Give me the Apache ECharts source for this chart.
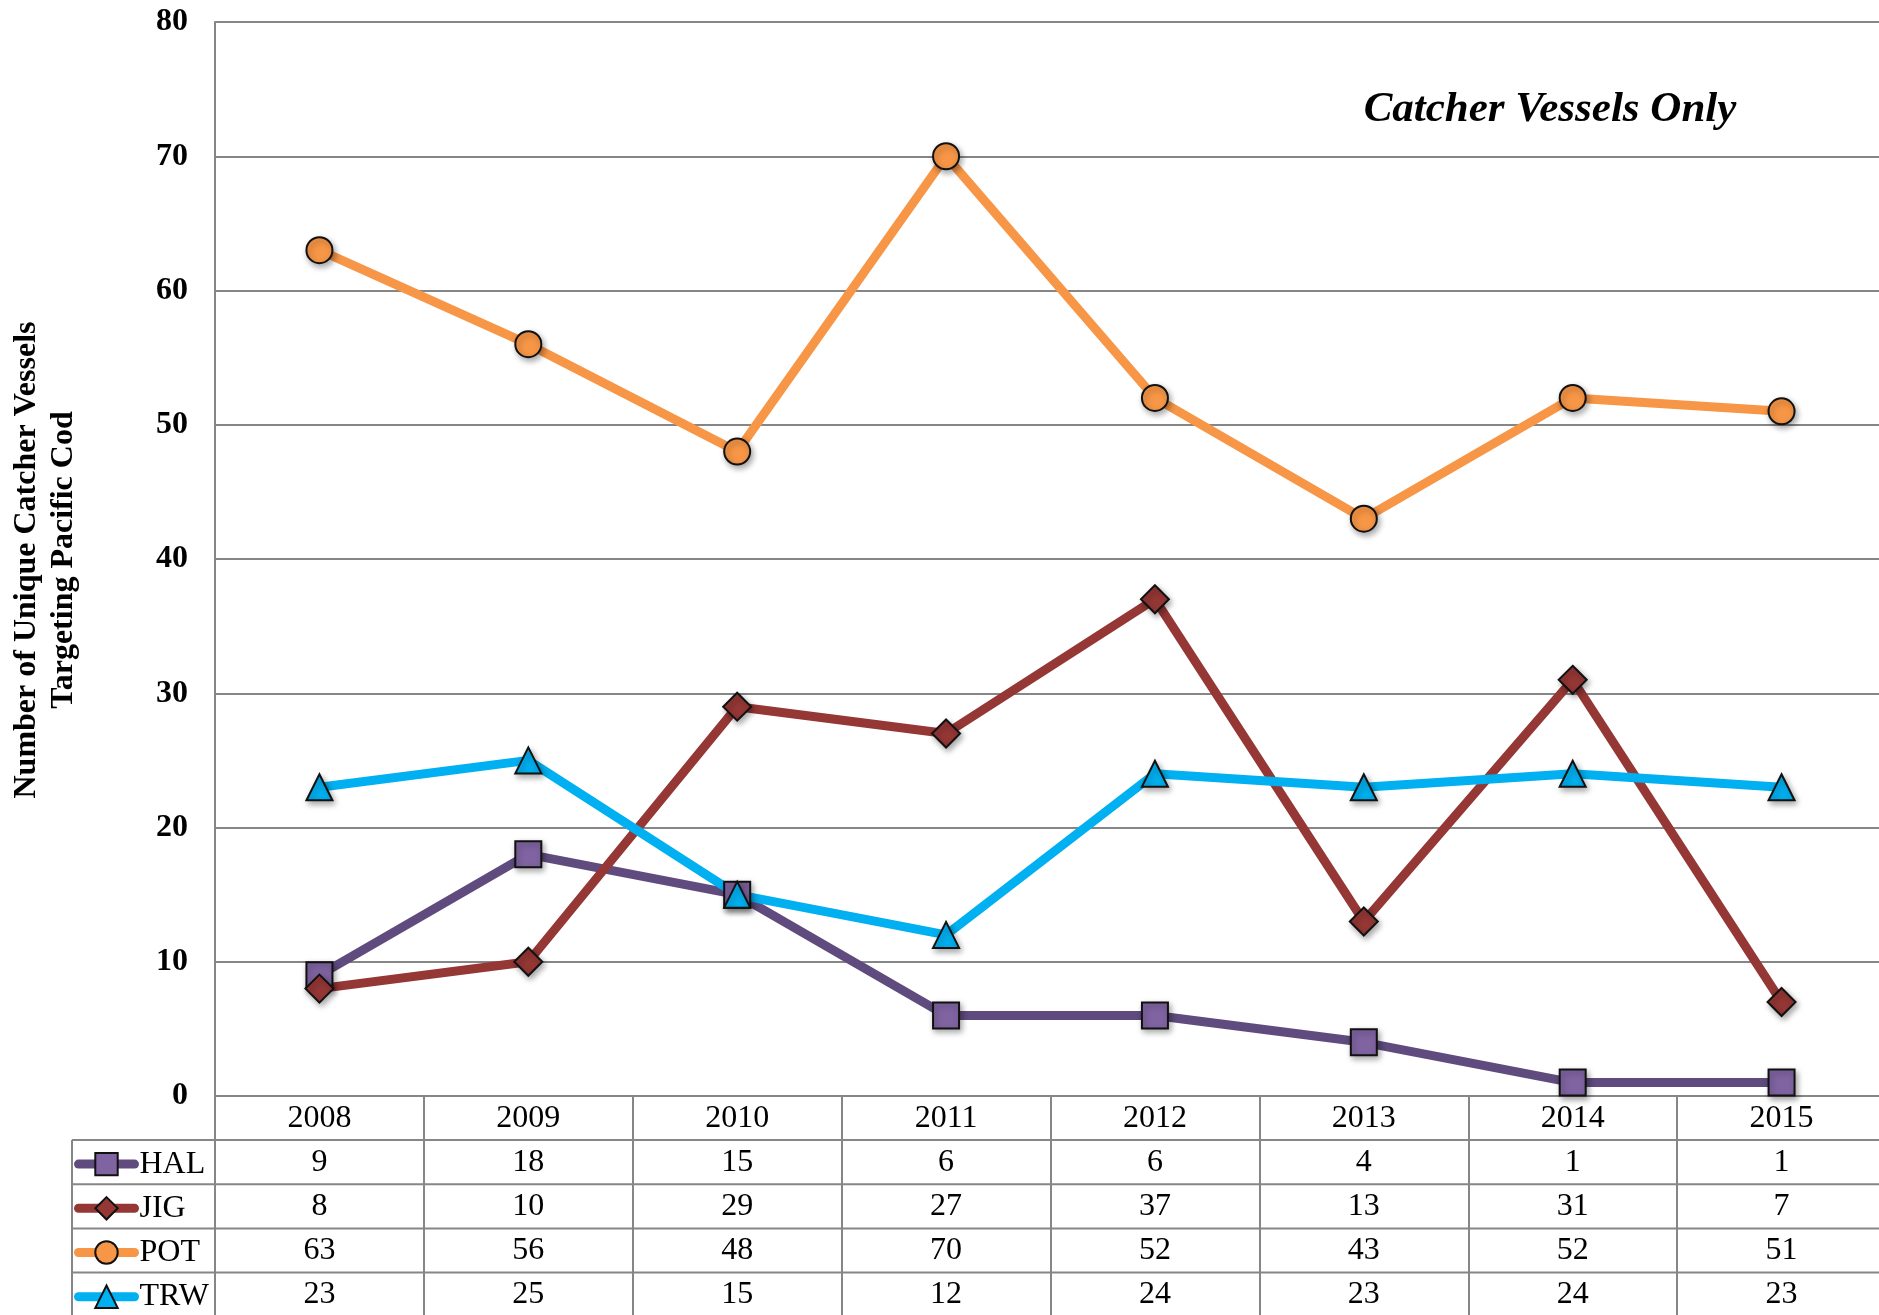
<!DOCTYPE html>
<html>
<head>
<meta charset="utf-8">
<script src="https://cdn.jsdelivr.net/npm/echarts@6/dist/echarts.min.js"></script>
<style>
  html, body { margin: 0; padding: 0; background: #fff; }
  #main { width: 1879px; height: 1315px; }
</style>
</head>
<body>
<div id="main"></div>
<script>
// data
const years = ['2008', '2009', '2010', '2011', '2012', '2013', '2014', '2015'];
const hal = [9, 18, 15, 6, 6, 4, 1, 1];
const jig = [8, 10, 29, 27, 37, 13, 31, 7];
const pot = [63, 56, 48, 70, 52, 43, 52, 51];
const trw = [23, 25, 15, 12, 24, 23, 24, 23];
const seriesNames = ['HAL', 'JIG', 'POT', 'TRW'];

const serif = 'Liberation Serif, Times New Roman, serif';
const gridColor = '#868686';

const rowTop = 1140;   // first data row of the table
const rowH = 44.2;

function makeLine(name, data, lineColor, fill, symbol, size) {
  return {
    name: name,
    type: 'line',
    data: data,
    symbol: symbol,
    symbolSize: size,
    lineStyle: { color: lineColor, width: 9, cap: 'round' },
    itemStyle: {
      color: fill,
      borderColor: '#111',
      borderWidth: 2,
      shadowBlur: 6,
      shadowColor: 'rgba(0,0,0,0.35)',
      shadowOffsetX: 2,
      shadowOffsetY: 3
    },
    emphasis: { disabled: true },
    animation: false
  };
}

// one legend per table row so each sits in its own cell
const legends = seriesNames.map(function (name, r) {
  return {
    orient: 'vertical',
    left: 74,
    top: rowTop + rowH * r + rowH / 2 - 14,
    padding: 0,
    itemWidth: 56,
    itemHeight: 28,
    data: [name],
    lineStyle: { width: 9, cap: 'round' },
    itemStyle: { borderColor: '#111', borderWidth: 2 },
    textStyle: { fontFamily: serif, fontSize: 32, color: '#000' },
    selectedMode: false
  };
});

const chart = echarts.init(document.getElementById('main'));
chart.setOption({
  animation: false,
  title: {
    text: 'Catcher Vessels Only',
    left: 1545,
    top: 83,
    textAlign: 'center',
    textStyle: { fontFamily: serif, fontSize: 43, fontWeight: 'bold', fontStyle: 'italic', color: '#000' }
  },
  legend: legends,
  // the plot runs a little past the right edge of the page
  grid: { left: 215, width: 1671, top: 22, bottom: 219, containLabel: false, outerBoundsMode: 'none' },
  xAxis: {
    type: 'category',
    data: years,
    boundaryGap: true,
    axisLine: { lineStyle: { color: gridColor, width: 2 } },
    axisTick: { show: true, interval: 0, length: 219, lineStyle: { color: gridColor, width: 2 } },
    axisLabel: { fontFamily: serif, fontSize: 32, color: '#000', margin: 7 }
  },
  yAxis: {
    type: 'value',
    min: 0,
    max: 80,
    interval: 10,
    axisLine: { show: true, lineStyle: { color: gridColor, width: 2 } },
    axisTick: { show: false },
    splitLine: { lineStyle: { color: gridColor, width: 2 } },
    axisLabel: { fontFamily: serif, fontSize: 32, fontWeight: 'bold', color: '#000', margin: 27 }
  },
  series: [
    makeLine('HAL', hal, '#5F4B7E', '#8064A2', 'rect', 26),
    makeLine('JIG', jig, '#953735', '#953735', 'diamond', 28),
    makeLine('POT', pot, '#F79646', '#F79646', 'circle', 26),
    makeLine('TRW', trw, '#00B0F0', '#00B0F0', 'triangle', 26)
  ]
});

// table of values and y axis name, placed from the axis scale
function drawTable() {
  const rows = [hal, jig, pot, trw];
  const elements = [];
  rows.forEach(function (vals, r) {
    const cy = rowTop + rowH * r + rowH / 2;
    vals.forEach(function (v, i) {
      const x = chart.convertToPixel({ xAxisIndex: 0 }, i);
      elements.push({
        type: 'text', x: x, y: cy,
        style: { text: String(v), font: '32px ' + serif, fill: '#000', align: 'center', verticalAlign: 'middle' }
      });
    });
    elements.push({
      type: 'line', shape: { x1: 72, y1: rowTop + rowH * r, x2: 1879, y2: rowTop + rowH * r },
      style: { stroke: gridColor, lineWidth: 2 }, z: 1
    });
  });
  elements.push({
    type: 'line', shape: { x1: 72, y1: rowTop, x2: 72, y2: 1315 },
    style: { stroke: gridColor, lineWidth: 2 }
  });
  elements.push({
    type: 'text', x: 45, y: 560, rotation: Math.PI / 2,
    style: {
      text: 'Number of Unique Catcher Vessels\nTargeting Pacific Cod',
      font: 'bold 32px ' + serif, fill: '#000', align: 'center', verticalAlign: 'middle', lineHeight: 37
    }
  });
  chart.setOption({ graphic: elements });
}
drawTable();

window.onresize = function () {
  chart.resize();
};
</script>
</body>
</html>
